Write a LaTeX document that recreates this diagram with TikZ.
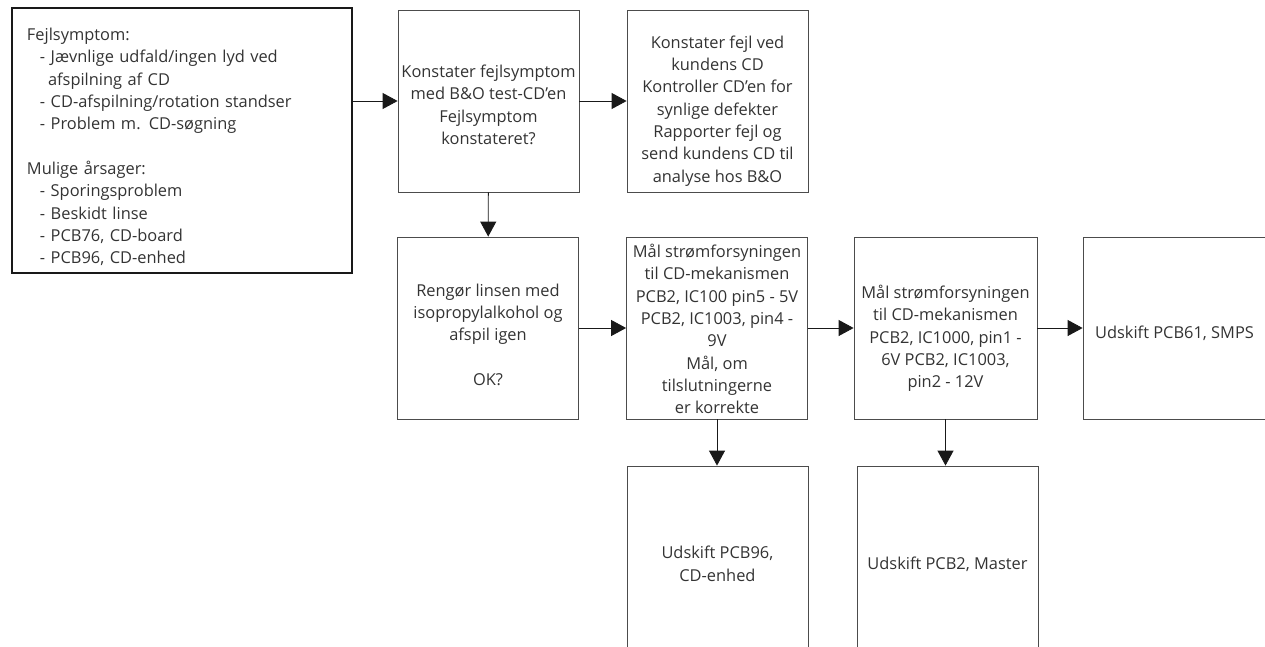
\documentclass[tikz,border=0pt]{standalone}
\usepackage{fontspec}
\setmainfont{Open Sans}
\usetikzlibrary{arrows.meta}
\newcommand{\lowerby}[1]{\rule{0pt}{#1}}

\begin{document}
\begin{tikzpicture}[x=1pt,y=1pt]
\tikzstyle{every node}+=[inner sep=0pt, text=black!80, font=\fontsize{16.4}{22.3}\selectfont]
\tikzstyle{box}=[draw=black!70, line width=0.8pt, minimum width=181pt, minimum height=182pt, align=center]
\tikzstyle{arr}=[draw=black!90, line width=0.9pt, -{Triangle[length=15pt,width=16pt]}]
\useasboundingbox (0,0) rectangle (1265,-646);
\clip (0,0) rectangle (1265,-646);
\node [draw=black!90, line width=2.5pt, minimum width=340pt, minimum height=265pt, align=left, text width=310pt] (sym) at (182,-140.5) {\lowerby{25.5pt}Fejlsymptom:\\
\hspace*{13pt}- Jævnlige udfald/ingen lyd ved\\
\hspace*{21pt}afspilning af CD\\
\hspace*{13pt}- CD-afspilning/rotation standser\\
\hspace*{13pt}- Problem m. CD-søgning\\[22.3pt]
Mulige årsager:\\
\hspace*{13pt}- Sporingsproblem\\
\hspace*{13pt}- Beskidt linse\\
\hspace*{13pt}- PCB76, CD-board\\
\hspace*{13pt}- PCB96, CD-enhed};
\node [box] (chk) at (488.5,-101) {\lowerby{20.5pt}Konstater fejlsymptom\\med B\&O test-CD’en\\Fejlsymptom\\konstateret?};
\node [box] (cust) at (717.5,-101) {\lowerby{32.5pt}Konstater fejl ved\\kundens CD\\Kontroller CD’en for\\synlige defekter\\Rapporter fejl og\\send kundens CD til\\analyse hos B\&O};
\node [box] (lens) at (488,-328) {\lowerby{26pt}Rengør linsen med\\isopropylalkohol og\\afspil igen\\\mbox{}\\OK?};
\node [box] (pwra) at (717,-328) {\lowerby{15.5pt}Mål strømforsyningen\\til CD-mekanismen\\PCB2, IC100 pin5 - 5V\\PCB2, IC1003, pin4 -\\9V\\Mål, om\\tilslutningerne\\er korrekte};
\node [box, minimum width=183pt] (pwrb) at (945.5,-328) {\lowerby{34.5pt}Mål strømforsyningen\\til CD-mekanismen\\PCB2, IC1000, pin1 -\\6V PCB2, IC1003,\\pin2 - 12V};
\node [box, minimum width=183pt] (smps) at (1174.5,-328) {\lowerby{22.5pt}Udskift PCB61, SMPS};
\node [box, minimum height=194pt] (pcbcd) at (717.4,-563) {\lowerby{14pt}Udskift PCB96,\\CD-enhed};
\node [box, minimum height=194pt] (pcbm) at (947.5,-563) {\lowerby{16pt}Udskift PCB2, Master};
\draw [arr] (sym.east |- chk.west) -- (chk.west);
\draw [arr] (chk) -- (cust);
\draw [arr] (chk) -- (lens);
\draw [arr] (lens) -- (pwra);
\draw [arr] (pwra) -- (pwrb);
\draw [arr] (pwrb) -- (smps);
\draw [arr] (pwra.south) -- (pwra.south |- pcbcd.north);
\draw [arr] (pwrb.south) -- (pwrb.south |- pcbm.north);
\end{tikzpicture}
\end{document}
